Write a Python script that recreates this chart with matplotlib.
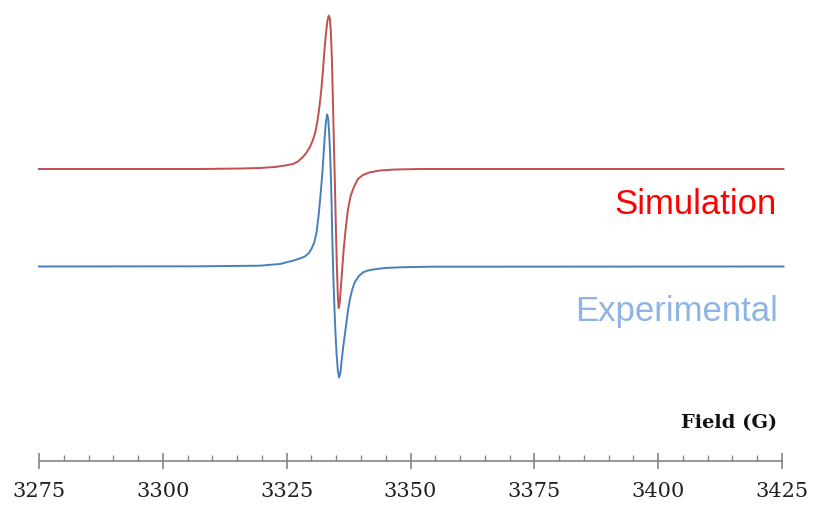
import matplotlib
matplotlib.use("Agg")
import matplotlib.pyplot as plt
from matplotlib.ticker import MultipleLocator

# Simulation spectrum (field in G, derivative signal, arbitrary units)
sim_field = [3275.0, 3307.49, 3315.57, 3319.60, 3322.63, 3324.65, 3326.26, 3327.27,
             3328.28, 3329.09, 3329.69, 3330.30, 3330.80, 3331.21, 3331.61, 3332.01,
             3332.32, 3332.62, 3332.92, 3333.22, 3333.49, 3333.73, 3333.93, 3334.13,
             3334.33, 3334.54, 3334.74, 3334.94, 3335.14, 3335.34, 3335.50, 3335.69,
             3335.95, 3336.25, 3336.55, 3336.96, 3337.36, 3337.91, 3338.57, 3339.38,
             3340.39, 3341.80, 3343.82, 3346.85, 3351.89, 3425.3]
sim_signal = [0.0, 0.0, 0.5, 1.0, 2.0, 3.5, 5.0, 7.5,
              12.0, 17.0, 22.0, 29.0, 37.0, 48.0, 62.0, 80.0,
              98.0, 118.0, 135.0, 148.0, 153.5, 150.0, 137.0, 110.0,
              70.0, 25.0, -15.0, -60.0, -98.0, -128.0, -139.0, -135.0,
              -118.0, -98.0, -78.0, -58.0, -41.0, -27.0, -18.0, -10.0,
              -6.0, -3.3, -1.5, -0.5, 0.0, 0.0]

# Experimental spectrum
exp_field = [3275.0, 3307.49, 3319.60, 3323.64, 3326.26, 3327.67, 3328.68, 3329.49,
             3330.09, 3330.60, 3331.04, 3331.41, 3331.71, 3332.01, 3332.26, 3332.52,
             3332.72, 3332.92, 3333.18, 3333.39, 3333.59, 3333.77, 3333.93, 3334.07,
             3334.19, 3334.39, 3334.60, 3334.84, 3335.08, 3335.34, 3335.59, 3335.85,
             3336.09, 3336.41, 3336.76, 3337.10, 3337.42, 3337.77, 3338.27, 3338.77,
             3339.58, 3340.45, 3341.40, 3342.47, 3344.83, 3347.86, 3353.91, 3425.3]
exp_signal = [0.0, 0.2, 0.8, 2.5, 5.8, 8.0, 10.0, 13.5,
              18.5, 24.5, 34.5, 49.5, 64.5, 81.5, 97.5, 117.5,
              132.5, 144.5, 152.0, 147.5, 132.5, 112.5, 89.5, 62.5,
              32.5, -4.5, -35.5, -65.5, -87.5, -104.5, -111.0, -106.5,
              -94.5, -80.5, -67.5, -54.5, -42.5, -32.5, -22.5, -15.5,
              -9.5, -5.8, -4.0, -3.0, -1.5, -0.8, -0.2, 0.0]

x_min, x_max = 3275, 3425
major_step, minor_step = 25, 5

W, H = 814, 510
fig = plt.figure(figsize=(W / 100, H / 100), dpi=100)
ax_left, ax_right, ax_bottom_px = 39, 782, 462
ax = fig.add_axes([ax_left / W, (H - ax_bottom_px) / H, (ax_right - ax_left) / W, ax_bottom_px / H])
ax.set_xlim(x_min, x_max)
ax.set_ylim(0, ax_bottom_px)

sim_offset = 292
exp_offset = 194.5
ax.plot(sim_field, [v + sim_offset for v in sim_signal], color="#C0504D", lw=1.4,
        clip_on=False, solid_joinstyle="round")
ax.plot(exp_field, [v + exp_offset for v in exp_signal], color="#4A7EBB", lw=1.4,
        clip_on=False, solid_joinstyle="round")

for s in ["top", "right", "left"]:
    ax.spines[s].set_visible(False)
ax.spines["bottom"].set_color("#858585")
ax.spines["bottom"].set_linewidth(1.2)
ax.set_yticks([])
ax.xaxis.set_major_locator(MultipleLocator(major_step))
ax.xaxis.set_minor_locator(MultipleLocator(minor_step))
ax.tick_params(axis="x", which="major", direction="inout", length=11, width=1.2,
               color="#858585", pad=9, labelsize=15, labelcolor="#222222")
ax.tick_params(axis="x", which="minor", direction="in", length=4.5, width=1.0,
               color="#858585")
for lab in ax.get_xticklabels():
    lab.set_fontfamily("DejaVu Serif")

fig.text(777 / W, 1 - 214 / H, "Simulation", color="#FF0000", fontsize=25,
         family="Liberation Sans", ha="right", va="baseline")
fig.text(778 / W, 1 - 321 / H, "Experimental", color="#8EB4E3", fontsize=25,
         family="Liberation Sans", ha="right", va="baseline")
fig.text(777 / W, 1 - 428 / H, "Field (G)", color="#111111", fontsize=14,
         family="DejaVu Serif", fontweight="bold", ha="right", va="baseline")

fig.savefig("out.png", dpi=100)
